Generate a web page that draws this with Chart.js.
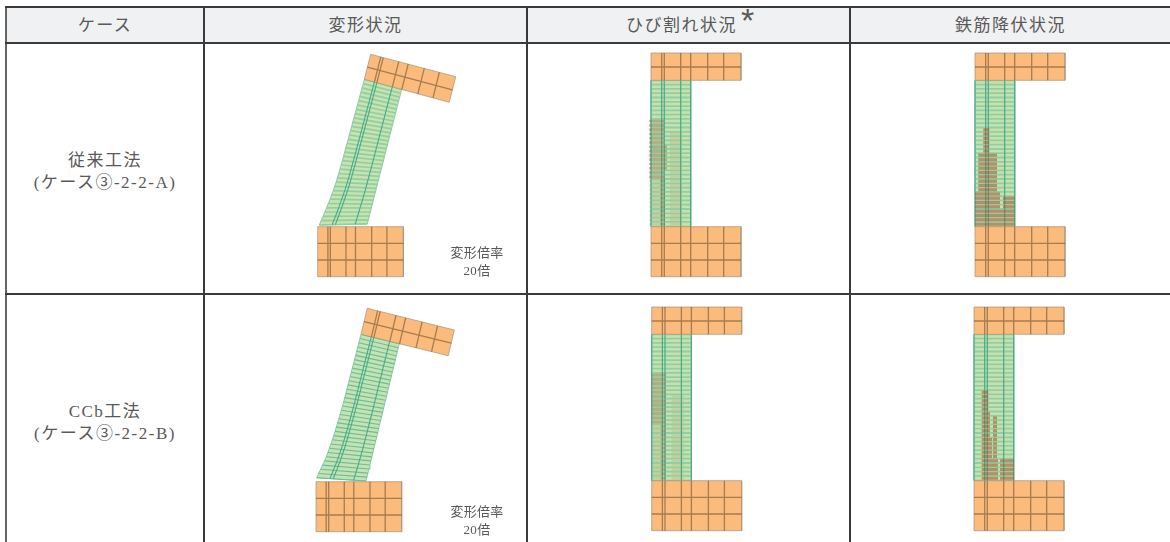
<!DOCTYPE html>
<html lang="ja">
<head>
<meta charset="utf-8">
<title>変形状況</title>
<script src="https://cdn.jsdelivr.net/npm/chart.js@4"></script>
<style>
html, body { margin: 0; padding: 0; background: #fff; overflow: hidden; }
body { width: 1170px; height: 542px; position: relative; font-family: "Liberation Serif", "Noto Sans CJK JP", serif; color: #595959; }
table { position: absolute; left: 5px; top: 6px; width: 1165px; height: 536px; border-collapse: collapse; table-layout: fixed; }
th, td { font-weight: normal; font-size: 17px; letter-spacing: 1.5px; text-align: center; line-height: 22px; border: 2px solid #3a3a3a; padding: 0; }
th { background: #f0f1f3; height: 36px; box-sizing: border-box; padding-top: 2px; }
td { vertical-align: middle; padding-top: 8px; box-sizing: border-box; }
tr.first td { padding-top: 6px; }
tr > :first-child { border-left-color: #666; }
tr > :last-child { border-right: none; }
tr:last-child td { border-bottom: none; }
.mark { position: relative; margin-right: 14px; }
.mark span { position: absolute; left: calc(100% + 4px); top: -13px; font-size: 34px; font-family: "Liberation Sans"; line-height: 34px; letter-spacing: 0; }
canvas { position: absolute; filter: blur(0.65px); }
.note { position: absolute; width: 70px; text-align: center; font-size: 13px; line-height: 18px; letter-spacing: 0.3px; z-index: 2; }
</style>
</head>
<body>
<table>
  <colgroup><col style="width:198px"><col style="width:323px"><col style="width:323px"><col></colgroup>
  <tr><th>ケース</th><th>変形状況</th><th><span class="mark">ひび割れ状況<span>*</span></span></th><th>鉄筋降伏状況</th></tr>
  <tr class="first" style="height:251px"><td>従来工法<br>(ケース③-2-2-A)</td><td></td><td></td><td></td></tr>
  <tr><td>CCb工法<br>(ケース③-2-2-B)</td><td></td><td></td><td></td></tr>
</table>
<div class="note" style="left:442px;top:244px">変形倍率<br>20倍</div>
<div class="note" style="left:442px;top:503px">変形倍率<br>20倍</div>

<script>
// mesh grid lines, px from the left / top corner of the member
const gridU = [0, 10.7, 13.3, 29.7, 39.7, 56.7, 72.7, 90];
const wallGridU = [0, 10.7, 13.3, 29.7, 39.7];
const slabV = [0, 14, 27.3];
const baseV = [173.7, 190.3, 207, 223.7];
const wallV = [27.3, 31.6, 35.9, 40.2, 44.5, 48.8, 53.1, 57.4, 61.6, 65.9, 70.2, 74.5, 78.8, 83.1, 87.4, 91.7, 96, 100.2, 104.5, 108.8, 113.1, 117.4, 121.7, 126, 130.3, 134.6, 138.8, 143.1, 147.4, 151.7, 156, 160.3, 164.6, 168.9, 173.7];

const defA_leftU = [46.6, 45.5, 44.3, 43.2, 42, 41, 39.6, 38.6, 37.3, 36.3, 35, 34, 32.8, 31.6, 30.5, 29.3, 28.1, 27, 25.8, 24.6, 23.4, 22.2, 21, 19.7, 18.4, 17, 15.5, 13.9, 12.3, 10.6, 8.9, 7.1, 5.3, 3.4, 1.6];
const defA_leftV = [26.3, 30.6, 34.9, 39.2, 43.4, 47.7, 52, 56.3, 60.6, 64.9, 69.1, 73.4, 77.7, 82, 86.3, 90.5, 94.8, 99.1, 103.4, 107.7, 112, 116.2, 120.5, 124.8, 129.1, 133.4, 137.7, 141.9, 146.2, 150.5, 154.8, 159, 163.3, 167.6, 172];
const defA_rightU = [84, 83, 82, 81, 80, 78.9, 77.9, 76.9, 75.9, 74.9, 73.9, 72.9, 71.8, 70.8, 69.8, 68.8, 67.8, 66.8, 65.8, 64.8, 63.8, 62.7, 61.7, 60.7, 59.7, 58.7, 57.7, 56.7, 55.7, 54.7, 53.6, 52.6, 51.6, 50.6, 49.6];
const defA_rightV = [36.3, 40.3, 44.2, 48.2, 52.1, 56.1, 60, 64, 68, 71.9, 75.9, 79.8, 83.8, 87.8, 91.7, 95.7, 99.6, 103.6, 107.5, 111.5, 115.5, 119.4, 123.4, 127.3, 131.3, 135.3, 139.2, 143.2, 147.1, 151.1, 155, 159, 163, 166.9, 170.9];
const defA_slab = [[53, 1.3], [138, 23.7], [131.6, 49.3], [46.6, 26.3]];

// deformed shape, case B
const defB_leftU = [45, 43.9, 42.8, 41.7, 40.7, 39.6, 38.5, 37.4, 36.3, 35.2, 34.1, 33, 32, 30.9, 29.8, 28.7, 27.6, 26.4, 25.2, 24, 22.8, 21.6, 20.3, 19, 17.7, 16.3, 14.9, 13.4, 11.8, 10.2, 8.5, 6.5, 4.6, 2.6, 0.7];
const defB_leftV = [26.3, 30.5, 34.7, 39, 43.2, 47.4, 51.6, 55.8, 60.1, 64.3, 68.5, 72.7, 76.9, 81.2, 85.4, 89.6, 93.8, 98, 102.3, 106.5, 110.7, 114.9, 119.1, 123.4, 127.6, 131.8, 136, 140.2, 144.5, 148.7, 152.9, 157.1, 161.3, 165.5, 169.7];
const defB_rightU = [83.3, 82.3, 81.3, 80.4, 79.4, 78.4, 77.4, 76.4, 75.5, 74.5, 73.5, 72.5, 71.5, 70.6, 69.6, 68.6, 67.6, 66.7, 65.7, 64.7, 63.7, 62.7, 61.8, 60.8, 59.8, 58.8, 57.9, 56.9, 55.9, 54.9, 53.9, 53, 52, 51, 50];
const defB_rightV = [35.7, 39.7, 43.8, 47.8, 51.9, 55.9, 60, 64, 68, 72.1, 76.1, 80.2, 84.2, 88.3, 92.3, 96.3, 100.4, 104.4, 108.5, 112.5, 116.5, 120.6, 124.6, 128.7, 132.7, 136.8, 140.8, 144.9, 148.9, 152.9, 157, 161, 165.1, 169.1, 173];
const defB_slab = [[51.3, 0.3], [138.3, 22], [132.3, 47.7], [45, 26.3]];

// damaged zones: [first row, last row, from u, to u]
const crackA_dense = [[9, 22, -2, 13], [15, 20, 13, 16], [23, 33, 9, 14]];
const crackA_light = [[12, 33, 19, 31], [23, 33, -2, 9]];
const crackB_dense = [[9, 33, 9, 14], [9, 20, 0, 9]];
const crackB_light = [[14, 33, 20, 32], [21, 33, 0, 9]];
const yieldA = [[11, 16, 8.3, 14.3], [17, 25, 3.3, 22], [26, 33, 0, 25], [27, 33, 28, 39.5], [30, 33, 25, 28]];
const yieldB = [[13, 17, 7.7, 14.3], [18, 23, 7.7, 16], [24, 28, 7.7, 18], [19, 31, 19, 23], [29, 33, 7.7, 24], [29, 33, 26, 40]];

const ORANGE = '#fbbb7c';
const GREEN = '#c8e0aa';
const ROW_LINE = '#8fcfa8';
const WALL_LINE = '#45ab8a';
const WALL_EDGE = 'rgba(120,190,155,0.8)';
const MESH_LINE = 'rgba(115,85,55,0.62)';
const EDGE_LINE = 'rgba(170,150,125,0.75)';

function segments(list) {
    const pts = [];
    list.forEach(line => {
        line.forEach(p => pts.push({ x: p[0], y: p[1] }));
        pts.push({ x: NaN, y: NaN });
    });
    return pts;
}

function polygon(points, color, edge) {
    const closed = points.concat([points[0]]);
    return { data: closed.map(p => ({ x: p[0], y: p[1] })), fill: 'shape', backgroundColor: color, borderColor: edge || EDGE_LINE, borderWidth: 1 };
}

function lines(list, color, width) {
    return { data: segments(list), borderColor: color, borderWidth: width, fill: false };
}

function baseDatasets(k) {
    // k shrinks the footing a little in the deformed views
    const right = gridU[gridU.length - 1] * k;
    const top = baseV[0], bottom = baseV[baseV.length - 1];
    return [
        polygon([[0, top], [right, top], [right, bottom], [0, bottom]], ORANGE),
        lines(gridU.slice(1, -1).map(u => [[u * k, top], [u * k, bottom]]).concat(baseV.slice(1, 3).map(v => [[0, v], [right, v]])), MESH_LINE, 1.3)
    ];
}

// straight, undeformed mesh: crack and yield views
function straightMesh(zones) {
    const right = gridU[gridU.length - 1], wallR = wallGridU[wallGridU.length - 1];
    const top = wallV[0], bottom = wallV[wallV.length - 1];
    const sets = [
        polygon([[0, top], [wallR, top], [wallR, bottom], [0, bottom]], GREEN, WALL_EDGE),
        lines(wallV.map(v => [[0, v], [wallR, v]]), ROW_LINE, 1.8),
        lines(wallGridU.map(u => [[u, top], [u, bottom]]), WALL_LINE, 1.2),
        polygon([[0, 0], [right, 0], [right, slabV[2]], [0, slabV[2]]], ORANGE),
        lines(gridU.slice(1, -1).map(u => [[u, 0], [u, slabV[2]]]).concat([[[0, slabV[1]], [right, slabV[1]]]]), MESH_LINE, 1.3)
    ];
    zones.forEach(z => {
        const rows = [];
        z.spans.forEach(s => {
            for (let r = s[0]; r <= s[1]; r++) {
                const v = (wallV[r] + wallV[r + 1]) / 2;
                rows.push([[s[2], v], [s[3], v]]);
            }
        });
        sets.push(lines(rows, z.color, z.width));
    });
    return sets.concat(baseDatasets(1));
}

// tilted mesh: wall edges from the read-off arrays, slab from its four corners
function deformedMesh(d) {
    const n = d.leftU.length;
    const wallR = wallGridU[wallGridU.length - 1], slabR = gridU[gridU.length - 1];
    const at = (i, f) => [d.leftU[i] + f * (d.rightU[i] - d.leftU[i]), d.leftV[i] + f * (d.rightV[i] - d.leftV[i])];
    const outline = [];
    for (let i = 0; i < n; i++) outline.push([d.leftU[i], d.leftV[i]]);
    for (let i = n - 1; i >= 0; i--) outline.push([d.rightU[i], d.rightV[i]]);
    const rows = [], cols = [];
    for (let i = 0; i < n; i++) rows.push([at(i, 0), at(i, 1)]);
    wallGridU.slice(1, -1).forEach(u => {
        const col = [];
        for (let i = 0; i < n; i++) col.push(at(i, u / wallR));
        cols.push(col);
    });
    const c = d.slab;
    const slabAt = (s, t) => [
        (1 - s) * (1 - t) * c[0][0] + s * (1 - t) * c[1][0] + s * t * c[2][0] + (1 - s) * t * c[3][0],
        (1 - s) * (1 - t) * c[0][1] + s * (1 - t) * c[1][1] + s * t * c[2][1] + (1 - s) * t * c[3][1]
    ];
    const slabLines = gridU.slice(1, -1).map(u => [slabAt(u / slabR, 0), slabAt(u / slabR, 1)])
        .concat([[slabAt(0, slabV[1] / slabV[2]), slabAt(1, slabV[1] / slabV[2])]]);
    return [
        polygon(outline, d.fill, WALL_EDGE),
        lines(rows, d.rowColor, d.rowWidth),
        lines(cols, WALL_LINE, 1.1),
        polygon(c, ORANGE),
        lines(slabLines, MESH_LINE, 1.3)
    ].concat(baseDatasets(0.952));
}

function drawPanel(panel) {
    const canvas = document.createElement('canvas');
    canvas.width = panel.w;
    canvas.height = panel.h;
    canvas.style.left = panel.left + 'px';
    canvas.style.top = panel.top + 'px';
    document.body.appendChild(canvas);
    const dx = panel.ox - panel.left, dy = panel.oy - panel.top;
    const sets = panel.sets.map((s, i, all) => Object.assign(s, {
        showLine: true, spanGaps: false, pointRadius: 0, order: all.length - i, clip: false
    }));
    new Chart(canvas, {
        type: 'scatter',
        data: { datasets: sets },
        options: {
            responsive: false,
            animation: false,
            events: [],
            layout: { padding: 0 },
            plugins: { legend: { display: false }, tooltip: { enabled: false } },
            scales: {
                x: { type: 'linear', display: false, min: -dx, max: panel.w - dx },
                y: { type: 'linear', display: false, reverse: true, min: -dy, max: panel.h - dy }
            }
        }
    });
}

const crackDense = 'rgba(160,85,50,0.38)';
const crackLight = 'rgba(190,120,80,0.17)';
const yieldColor = 'rgba(170,85,50,0.58)';

const defA = { leftU: defA_leftU, leftV: defA_leftV, rightU: defA_rightU, rightV: defA_rightV, slab: defA_slab, fill: '#c9e2ae', rowColor: '#8fcfa6', rowWidth: 1.7 };
const defB = { leftU: defB_leftU, leftV: defB_leftV, rightU: defB_rightU, rightV: defB_rightV, slab: defB_slab, fill: '#c4e2b4', rowColor: '#6cbd96', rowWidth: 1.1 };

const panels = [
    { left: 206, top: 44, w: 319, h: 249, ox: 317.7, oy: 53, sets: deformedMesh(defA) },
    { left: 528, top: 44, w: 320, h: 249, ox: 651, oy: 53, sets: straightMesh([{ spans: crackA_light, color: crackLight, width: 2.4 }, { spans: crackA_dense, color: crackDense, width: 2.6 }]) },
    { left: 851, top: 44, w: 319, h: 249, ox: 975, oy: 53, sets: straightMesh([{ spans: yieldA, color: yieldColor, width: 3 }]) },
    { left: 206, top: 296, w: 319, h: 246, ox: 316, oy: 308, sets: deformedMesh(defB) },
    { left: 528, top: 296, w: 320, h: 246, ox: 651.7, oy: 307, sets: straightMesh([{ spans: crackB_light, color: crackLight, width: 2.4 }, { spans: crackB_dense, color: crackDense, width: 2.6 }]) },
    { left: 851, top: 296, w: 319, h: 246, ox: 974, oy: 307, sets: straightMesh([{ spans: yieldB, color: yieldColor, width: 3 }]) }
];

panels.forEach(drawPanel);
</script>
</body>
</html>
